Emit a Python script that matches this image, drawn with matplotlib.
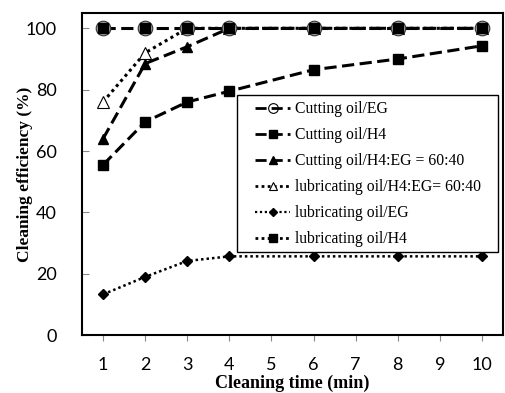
import matplotlib
matplotlib.use("Agg")
import matplotlib.pyplot as plt
from matplotlib.lines import Line2D
from matplotlib.patches import Rectangle

# Cleaning time (min)
times = [1, 2, 3, 4, 6, 8, 10]

cut_eg = [100, 100, 100, 100, 100, 100, 100]
cut_h4 = [55.5, 69.5, 76, 79.5, 86.5, 90, 94.3]
cut_mix = [64, 88.5, 94, 100, 100, 100, 100]
lub_mix = [76, 92, 100, 100, 100, 100, 100]
lub_eg = [13.3, 19, 24.2, 25.7, 25.7, 25.7, 25.7]
lub_h4 = [100, 100, 100, 100, 100, 100, 100]

labels = [
    "Cutting oil/EG",
    "Cutting oil/H4",
    "Cutting oil/H4:EG = 60:40",
    "lubricating oil/H4:EG= 60:40",
    "lubricating oil/EG",
    "lubricating oil/H4",
]

serif = "Liberation Serif"

fig = plt.figure(figsize=(5.06, 3.93), dpi=100)
ax = fig.add_axes([0.162, 0.147, 0.832, 0.82])

dash = (0, (4, 1.8))
dot = (0, (1, 1.2))

# mixtures first so the 100% circles sit on top of their triangles
ax.plot(times, lub_mix, linestyle=dot, color="black", lw=2.2, marker="^",
        ms=8, mfc="white", mec="black", mew=0.8, zorder=2)
ax.plot(times, cut_mix, linestyle=dash, color="black", lw=2.2, marker="^",
        ms=7, mfc="black", mec="black", zorder=2)
ax.plot(times, cut_h4, linestyle=dash, color="black", lw=2.2, marker="s",
        ms=7.2, mfc="black", mec="black", zorder=2)
ax.plot(times, lub_eg, linestyle=dot, color="black", lw=1.8, marker="D",
        ms=4.8, mfc="black", mec="black", zorder=2)
ax.plot(times, cut_eg, linestyle=dash, color="black", lw=2.2, marker="o",
        ms=10.5, mfc="#b4b4b4", mec="#333333", mew=0.8, zorder=3)
ax.plot(times, lub_h4, linestyle="none", marker="s",
        ms=6.5, mfc="black", mec="black", zorder=4)

ax.set_xlim(0.5, 10.5)
ax.set_ylim(0, 105)
ax.set_xticks(range(1, 11))
ax.set_yticks([0, 20, 40, 60, 80, 100])

for s in ax.spines.values():
    s.set_linewidth(1.5)

ax.tick_params(axis="x", direction="out", length=4, color="#888888",
               labelsize=13, pad=12)
ax.tick_params(axis="y", direction="in", length=5, color="#888888",
               labelsize=13, pad=18)
for t in ax.get_xticklabels() + ax.get_yticklabels():
    t.set_fontfamily("Lato")

ax.set_xlabel("Cleaning time (min)", fontfamily=serif, fontweight="bold",
              fontsize=13, labelpad=1)
ax.set_ylabel("Cleaning efficiency (%)", fontfamily=serif, fontweight="bold",
              fontsize=12.5)
ax.yaxis.set_label_coords(-0.117, 0.5)

# legend proxies
handles = [
    Line2D([], [], linestyle=dash, color="black", lw=2, marker="o", ms=7,
           mfc="none", mec="black", mew=0.8),
    Line2D([], [], linestyle=dash, color="black", lw=2, marker="s", ms=6,
           mfc="black", mec="black"),
    Line2D([], [], linestyle=dash, color="black", lw=2, marker="^", ms=6,
           mfc="black", mec="black"),
    Line2D([], [], linestyle=dot, color="black", lw=2, marker="^", ms=6,
           mfc="white", mec="black", mew=0.8),
    Line2D([], [], linestyle=dot, color="black", lw=1.6, marker="D", ms=4,
           mfc="black", mec="black"),
    Line2D([], [], linestyle=dot, color="black", lw=2, marker="s", ms=6,
           mfc="black", mec="black"),
]

# legend frame drawn separately: wide side padding, tight top/bottom
fig.patches.append(Rectangle((237 / 506, 1 - 252 / 393), 261 / 506,
                             157 / 393, transform=fig.transFigure,
                             facecolor="white", edgecolor="black", lw=1.0,
                             zorder=5))
leg = fig.legend(handles, labels, loc="upper left",
                 bbox_to_anchor=(255 / 506, 1 - 101 / 393),
                 prop={"family": serif, "size": 11.3}, frameon=False,
                 handlelength=2.25, handletextpad=0.3, labelspacing=0.64,
                 borderpad=0, borderaxespad=0)
leg.set_zorder(6)

fig.savefig("out.png", dpi=100)
